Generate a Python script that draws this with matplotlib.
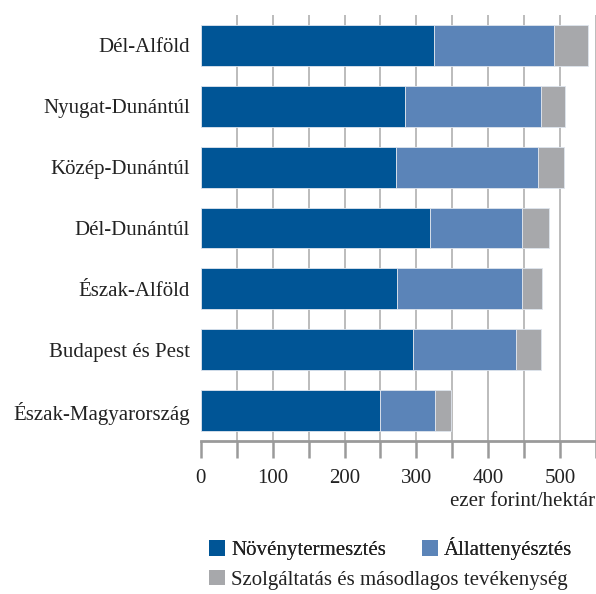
import matplotlib.pyplot as plt
from matplotlib.patches import Patch
from matplotlib.ticker import MultipleLocator

plt.rcParams['font.family'] = ['Liberation Serif', 'DejaVu Serif']

regions = ["Dél-Alföld", "Nyugat-Dunántúl", "Közép-Dunántúl", "Dél-Dunántúl",
           "Észak-Alföld", "Budapest és Pest", "Észak-Magyarország"]
crops = [324.5, 284.5, 271, 319, 273.5, 295.5, 249]
livestock = [167.5, 189.5, 198.5, 128.5, 173, 142.5, 77]
services = [47, 33, 35.5, 36.5, 29, 36, 22]

series_names = ["Növénytermesztés", "Állattenyésztés",
                "Szolgáltatás és másodlagos tevékenység"]
colors = ["#005596", "#5b84b8", "#a7a8ab"]

fig = plt.figure(figsize=(5.96, 5.94), dpi=100)
ax = fig.add_axes([0.337, 0.2576, 0.663, 0.7172])

pos = list(range(len(regions)))[::-1]
left = [0] * len(regions)
for vals, col in zip([crops, livestock, services], colors):
    ax.barh(pos, vals, left=left, height=0.67, color=col,
            edgecolor="#dfe5ee", linewidth=0.6, zorder=3)
    left = [a + b for a, b in zip(left, vals)]

ax.set_xlim(0, 550)
ax.set_ylim(-0.5, 6.5)
ax.xaxis.set_major_locator(MultipleLocator(100))
ax.xaxis.set_minor_locator(MultipleLocator(50))
ax.grid(axis="x", which="both", color="#bcbcbc", linewidth=1.4, zorder=0)
ax.get_xgridlines()[0].set_visible(False)

for s in ["top", "right", "left"]:
    ax.spines[s].set_visible(False)
ax.spines["bottom"].set_color("#9a9a9a")
ax.spines["bottom"].set_linewidth(2)
ax.tick_params(axis="x", which="both", direction="out", length=12,
               width=1.8, color="#9a9a9a", labelsize=15, pad=8,
               labelcolor="#222222")
ax.set_xticks([0, 100, 200, 300, 400, 500])
ax.set_yticks(pos)
ax.set_yticklabels(regions, fontsize=15, color="#222222")
ax.tick_params(axis="y", length=0, pad=8)

fig.text(0.998, 0.156, "ezer forint/hektár", ha="right", va="center",
         fontsize=15, color="#222222")

h = [Patch(facecolor=c, edgecolor="none") for c in colors]
leg1 = fig.legend(h[:2], series_names[:2], ncol=2, loc="center left",
                  bbox_to_anchor=(0.351, 0.076), frameon=False, fontsize=15,
                  handlelength=0.75, handleheight=0.75, handletextpad=0.3,
                  columnspacing=1.75, borderaxespad=0, borderpad=0)
leg2 = fig.legend(h[2:], series_names[2:], loc="center left",
                  bbox_to_anchor=(0.351, 0.024), frameon=False, fontsize=15,
                  handlelength=0.75, handleheight=0.75, handletextpad=0.3,
                  borderaxespad=0, borderpad=0)
for leg in (leg1, leg2):
    for t in leg.get_texts():
        t.set_color("#222222")
fig.add_artist(leg1)

fig.savefig("out.png", dpi=100)
